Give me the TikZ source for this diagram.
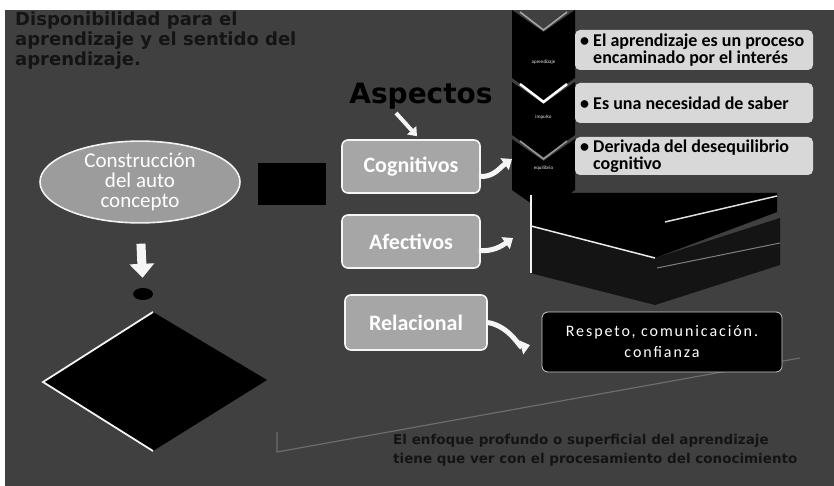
\documentclass[tikz,border=0pt]{standalone}
\usepackage{fontspec}
\setmainfont{Carlito}
\newfontfamily\titlefont{DejaVu Sans}
\newfontfamily\thinfont[LetterSpace=12]{Carlito}
\usetikzlibrary{arrows.meta,shapes.geometric,calc}
\definecolor{bg}{HTML}{404040}
\definecolor{boxgray}{HTML}{A6A6A6}
\definecolor{ellgray}{HTML}{9C9C9C}
\definecolor{txtbox}{HTML}{D8D8D8}
\definecolor{darktxt}{HTML}{141414}
\tikzset{
  aspectbox/.style={rounded corners=6pt, fill=boxgray, draw=white!92!gray, line width=1.6pt,
    minimum width=138pt, minimum height=53pt, inner sep=0pt, text=white,
    font=\bfseries\fontsize{22}{24}\selectfont},
  infobox/.style={rounded corners=5pt, fill=txtbox, minimum width=238pt, inner sep=0pt},
  infotext/.style={anchor=west, align=left, inner sep=0pt, text=black,
    font=\bfseries\fontsize{18}{17}\selectfont},
  chevlabel/.style={text=white!85!gray, inner sep=0pt, font=\fontsize{5}{6}\selectfont},
  blockarrow/.style={draw=white!92!gray, line width=5pt,
    -{Triangle[length=9pt,width=14pt]}},
  chev/.style={fill=black},
}
\begin{document}
\begin{tikzpicture}[x=1pt,y=-1pt]
\useasboundingbox (0,0) rectangle (834,486);
\fill[white] (0,0) rectangle (834,486);
\fill[bg] (5,10) rectangle (834,486);

% title
\node[anchor=north west, align=left, inner sep=0pt, text=darktxt,
  font=\titlefont\bfseries\fontsize{18}{20}\selectfont] (title) at (15,12)
  {Disponibilidad para el\\aprendizaje y el sentido del\\aprendizaje.};

% faint slanted line at the bottom
\draw[gray!70!bg, line width=1.2pt] (277,432) -- (277,452) -- (800,358);

% bottom text
\node[anchor=north west, align=left, inner sep=0pt, text=darktxt,
  font=\titlefont\bfseries\fontsize{13.5}{19}\selectfont] (bottom) at (393,434)
  {El enfoque profundo o superficial del aprendizaje\\tiene que ver con el procesamiento del conocimiento};

% Aspectos heading
\node[inner sep=0pt, text=black, font=\titlefont\bfseries\fontsize{28}{30}\selectfont] (asp) at (421,96) {Aspectos};

% left column
\node[ellipse, fill=ellgray, draw=white!90!gray, line width=1.6pt, minimum width=200pt,
  minimum height=76pt, inner sep=0pt, align=center, text=white,
  font=\fontsize{21}{20}\selectfont] (ell) at (140,182) {Construcción\\del auto\\concepto};
\node[fill=black, minimum width=68pt, minimum height=42pt, inner sep=0pt] (band) at (292,184) {};
\node[ellipse, fill=black, minimum width=20pt, minimum height=12pt, inner sep=0pt] (dot) at (143,294) {};
\draw[blockarrow, line width=9pt, -{Triangle[length=14pt,width=24pt]}, shorten <=20pt, shorten >=10pt] (ell.south) -- (dot.north);

% diamond
\coordinate (dt) at (153,312);
\coordinate (dl) at (43,382);
\coordinate (db) at (153,451);
\coordinate (dr) at (267,380);
\fill[black] (dt) -- (dr) -- (db) -- (dl) -- cycle;
\draw[white!90!gray, line width=1.8pt, line join=miter] (dt) -- (dl) -- (db);

% aspect boxes
\node[aspectbox] (cog) at (411,166.5) {Cognitivos};
\node[aspectbox] (afe) at (411,241.5) {Afectivos};
\node[aspectbox, minimum width=142pt, minimum height=55pt] (rel) at (416,322.5) {Relacional};

% chevrons
\fill[chev] (512,10) -- (543.5,32) -- (575,10) -- (575,78) -- (543.5,100) -- (512,78) -- cycle;
\fill[chev] (512,82) -- (543.5,104) -- (575,82) -- (575,135) -- (543.5,157) -- (512,135) -- cycle;
\fill[chev] (512,139) -- (543.5,161) -- (575,139) -- (575,190) -- (543.5,212) -- (512,190) -- cycle;
\draw[gray!70, line width=1.5pt] (520,12) -- (543.5,30) -- (567,12);
\draw[white, line width=2.5pt] (520,84) -- (543.5,102) -- (567,84);
\draw[gray!80, line width=1.5pt] (520,141) -- (543.5,159) -- (567,141);
\node[chevlabel] (l1) at (543.5,62) {aprendizaje};
\node[chevlabel] (l2) at (543.5,117) {impulso};
\node[chevlabel] (l3) at (543.5,168) {equilibrio};

% info boxes
\node[infobox, minimum height=40pt] (b1) at (694,50) {};
\node[infobox, minimum height=40pt] (b2) at (694,103) {};
\node[infobox, minimum height=38pt] (b3) at (694,156) {};
\node[infotext] (t1) at (580,50) {• El aprendizaje es un proceso\\\phantom{• }encaminado por el interés};
\node[infotext] (t2) at (580,103) {• Es una necesidad de saber};
\node[infotext] (t3) at (580,156) {• Derivada del desequilibrio\\\phantom{• }cognitivo};

% 3D dark shape
\fill[black] (530,193) -- (777,193) -- (777,212) -- (655,258) -- (530,226) -- cycle;
\fill[black!92] (530,226) -- (655,258) -- (780,218) -- (780,265) -- (655,305) -- (530,273) -- cycle;
\draw[white!90!gray, line width=2pt] (531,195) -- (531,273);
\draw[white!85!gray, line width=1.5pt] (531,226) -- (655,258);
\draw[white!75!gray, line width=1.5pt] (665,222) -- (777,196);
\draw[gray, line width=1pt] (657,268) -- (780,243);

% Respeto box
\node[rounded corners=6pt, fill=black, draw=white!60!gray, line width=0.8pt,
  minimum width=240pt, minimum height=60pt, inner sep=0pt, align=center, text=white,
  font=\thinfont\fontsize{16}{21}\selectfont] (res) at (662,342) {Respeto, comunicación.\\confianza};

% arrows
\coordinate (ch0) at (396,113);
\draw[blockarrow, line width=4pt, -{Triangle[length=8pt,width=12pt]}] (ch0) -- ($(cog.north)+(6,-3)$);
\coordinate (c1) at (512,159);
\coordinate (c2) at (513,238);
\draw[blockarrow] ($(cog.east)+(-2,10)$) to[out=-5,in=215] (c1);
\draw[blockarrow] ($(afe.east)+(-2,9)$) to[out=-5,in=215] (c2);
\draw[blockarrow, shorten >=12pt] (rel.east) to[out=-10,in=195] (res.west);
\end{tikzpicture}
\end{document}
